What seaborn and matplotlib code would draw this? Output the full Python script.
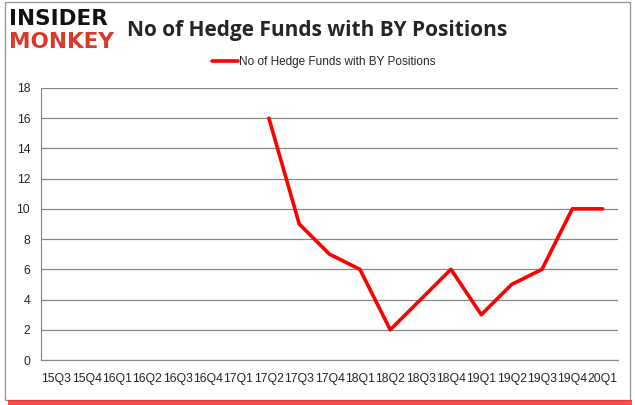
import numpy as np
import pandas as pd
import seaborn as sns
import matplotlib.pyplot as plt
from matplotlib.patches import Rectangle

# quarters and number of hedge funds holding BY
quarters = ['15Q3', '15Q4', '16Q1', '16Q2', '16Q3', '16Q4', '17Q1', '17Q2', '17Q3', '17Q4',
            '18Q1', '18Q2', '18Q3', '18Q4', '19Q1', '19Q2', '19Q3', '19Q4', '20Q1']
funds = [np.nan, np.nan, np.nan, np.nan, np.nan, np.nan, np.nan, 16, 9, 7,
         6, 2, 4, 6, 3, 5, 6, 10, 10]
y_ticks = [0, 2, 4, 6, 8, 10, 12, 14, 16, 18]

df = pd.DataFrame({'pos': range(len(quarters)), 'quarter': quarters, 'funds': funds})
df = df.dropna()

sns.set_style('white')
plt.rcParams['font.family'] = ['Liberation Sans', 'DejaVu Sans']

fig = plt.figure(figsize=(6.35, 4.05), dpi=100)
ax = fig.add_axes([0.065, 0.111, 0.908, 0.672])

sns.lineplot(data=df, x='pos', y='funds', color='#ff0000', linewidth=2.6, ax=ax,
             label='No of Hedge Funds with BY Positions')

ax.set_xlim(-0.5, len(quarters) - 0.5)
ax.set_ylim(0, 18)
ax.set_yticks(y_ticks)
ax.set_xticks(np.arange(len(quarters)))
ax.set_xticklabels(quarters, fontsize=8.8)
ax.set_xticks(np.arange(len(quarters) + 1) - 0.5, minor=True)
ax.tick_params(axis='x', which='major', length=0, pad=9)
ax.tick_params(axis='x', which='minor', length=4, color='#888888')
ax.tick_params(axis='y', length=4, color='#888888', labelsize=8.8, pad=4)
ax.grid(axis='y', color='#888888', linewidth=0.9)
ax.set_axisbelow(True)
ax.set_xlabel('')
ax.set_ylabel('')
for s in ['top', 'right']:
    ax.spines[s].set_visible(False)
for s in ['left', 'bottom']:
    ax.spines[s].set_color('#888888')

ax.legend(loc='lower center', bbox_to_anchor=(0.49, 1.035), frameon=False, fontsize=8.5,
          handlelength=2.2, handletextpad=0.1)

fig.text(0.5, 0.925, 'No of Hedge Funds with BY Positions', ha='center', va='center',
         fontsize=15, fontweight='bold', family=['Open Sans', 'DejaVu Sans'])
fig.text(0.014, 0.952, 'INSIDER', fontsize=15.5, fontweight='heavy', color='#111111',
         va='center', family=['DejaVu Sans'])
fig.text(0.014, 0.897, 'MONKEY', fontsize=15.5, fontweight='heavy', color='#d8392b',
         va='center', family=['DejaVu Sans'])

# frame and shadow
fig.patches.append(Rectangle((0.008, 0.012), 0.984, 0.983, transform=fig.transFigure,
                             fill=False, edgecolor='#999999', linewidth=1))
fig.patches.append(Rectangle((0.012, 0.0), 0.984, 0.012, transform=fig.transFigure,
                             facecolor='#ff2020', edgecolor='none', alpha=0.8))

fig.savefig('out.png', dpi=100)
